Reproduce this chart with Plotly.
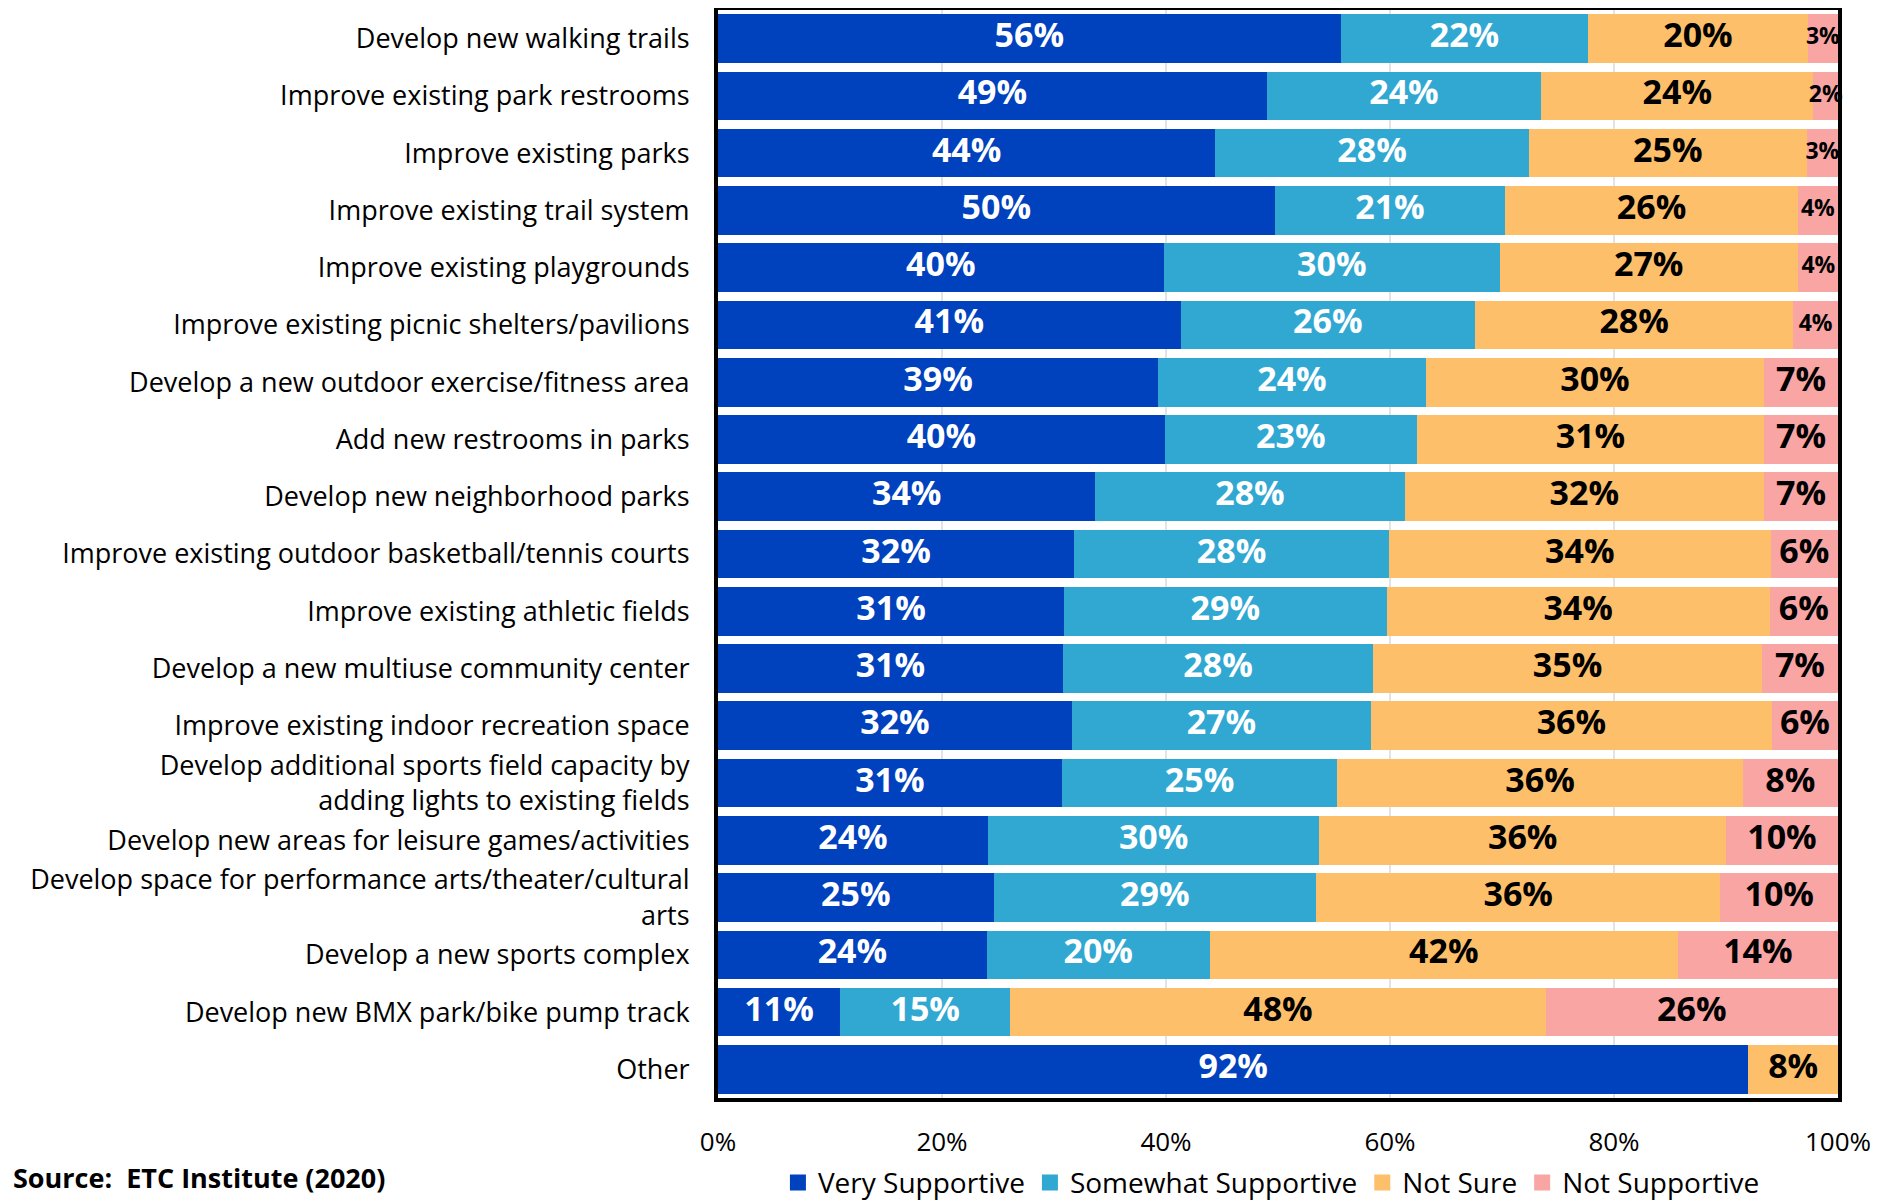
import plotly.graph_objects as go

categories = [
    "Develop new walking trails",
    "Improve existing park restrooms",
    "Improve existing parks",
    "Improve existing trail system",
    "Improve existing playgrounds",
    "Improve existing picnic shelters/pavilions",
    "Develop a new outdoor exercise/fitness area",
    "Add new restrooms in parks",
    "Develop new neighborhood parks",
    "Improve existing outdoor basketball/tennis courts",
    "Improve existing athletic fields",
    "Develop a new multiuse community center",
    "Improve existing indoor recreation space",
    "Develop additional sports field capacity by<br>adding lights to existing fields",
    "Develop new areas for leisure games/activities",
    "Develop space for performance arts/theater/cultural<br>arts",
    "Develop a new sports complex",
    "Develop new BMX park/bike pump track",
    "Other",
]

very_supportive = [55.6, 49.0, 44.4, 49.7, 39.8, 41.3, 39.3, 39.9, 33.7, 31.8, 30.9, 30.8, 31.6, 30.7, 24.1, 24.6, 24.0, 10.9, 92.0]
somewhat_supportive = [22.1, 24.5, 28.0, 20.6, 30.0, 26.3, 23.9, 22.5, 27.6, 28.1, 28.8, 27.7, 26.7, 24.6, 29.6, 28.8, 19.9, 15.2, 0.0]
not_sure = [19.6, 24.3, 24.8, 26.1, 26.6, 28.4, 30.2, 31.0, 32.1, 34.1, 34.2, 34.7, 35.8, 36.2, 36.3, 36.1, 41.8, 47.8, 8.0]
not_supportive = [2.7, 2.2, 2.8, 3.6, 3.7, 4.0, 6.6, 6.6, 6.6, 6.0, 6.1, 6.8, 5.9, 8.5, 10.0, 10.5, 14.3, 26.1, 0.0]

very_labels = ["56%", "49%", "44%", "50%", "40%", "41%", "39%", "40%", "34%", "32%", "31%", "31%", "32%", "31%", "24%", "25%", "24%", "11%", "92%"]
somewhat_labels = ["22%", "24%", "28%", "21%", "30%", "26%", "24%", "23%", "28%", "28%", "29%", "28%", "27%", "25%", "30%", "29%", "20%", "15%", ""]
notsure_labels = ["20%", "24%", "25%", "26%", "27%", "28%", "30%", "31%", "32%", "34%", "34%", "35%", "36%", "36%", "36%", "36%", "42%", "48%", "8%"]
notsupp_labels = ["3%", "2%", "3%", "4%", "4%", "4%", "7%", "7%", "7%", "6%", "6%", "7%", "6%", "8%", "10%", "10%", "14%", "26%", ""]

tick_vals = [0, 20, 40, 60, 80, 100]
tick_text = ["0%", "20%", "40%", "60%", "80%", "100%"]

series = [
    ("Very Supportive", very_supportive, very_labels, "#0041BE", "white"),
    ("Somewhat Supportive", somewhat_supportive, somewhat_labels, "#31A8D2", "white"),
    ("Not Sure", not_sure, notsure_labels, "#FDBF6A", "black"),
    ("Not Supportive", not_supportive, notsupp_labels, "#F9A5A4", "black"),
]

FONT = "Open Sans"

fig = go.Figure()

# stacked bars
for name, vals, labels, color, tcolor in series:
    fig.add_trace(go.Bar(
        name=name,
        y=categories,
        x=vals,
        orientation="h",
        marker=dict(color=color, line=dict(width=0)),
        showlegend=False,
        hoverinfo="skip",
    ))

# data labels centred on each segment
base = [0.0] * len(categories)
for name, vals, labels, color, tcolor in series:
    centers = [b + v / 2 for b, v in zip(base, vals)]
    sizes = [23 if v < 5 else 34 for v in vals]
    fig.add_trace(go.Scatter(
        x=centers,
        y=categories,
        mode="text",
        text=labels,
        textposition="middle center",
        textfont=dict(family=FONT, size=sizes, color=tcolor, weight="bold"),
        showlegend=False,
        hoverinfo="skip",
        cliponaxis=False,
    ))
    base = [b + v for b, v in zip(base, vals)]

# legend entries
for name, vals, labels, color, tcolor in series:
    fig.add_trace(go.Scatter(
        x=[None], y=[None],
        mode="markers",
        name=name,
        marker=dict(symbol="square", size=24, color=color),
        showlegend=True,
    ))

n = len(categories)

fig.update_layout(
    barmode="stack",
    bargap=0.15,
    width=1890,
    height=1193,
    margin=dict(l=710, r=60, t=2, b=103, autoexpand=False),
    paper_bgcolor="white",
    plot_bgcolor="white",
    font=dict(family=FONT, color="black"),
    showlegend=True,
    legend=dict(
        orientation="h",
        x=0.0535, y=-0.078, xanchor="left", yanchor="middle",
        font=dict(family=FONT, size=28, color="black"),
        traceorder="normal",
        itemwidth=30,
        itemclick=False,
        tracegroupgap=0,
    ),
    xaxis=dict(
        range=[0, 100],
        tickvals=tick_vals,
        ticktext=tick_text,
        showgrid=True,
        gridcolor="#E3E3E3",
        gridwidth=1.5,
        zeroline=False,
        showline=True,
        linecolor="black",
        linewidth=4,
        mirror=True,
        ticks="",
        ticklabelstandoff=18,
        tickfont=dict(family=FONT, size=26, color="black"),
        fixedrange=True,
    ),
    yaxis=dict(
        range=[n - 0.5, -0.5],
        autorange=False,
        showgrid=False,
        zeroline=False,
        showline=True,
        linecolor="black",
        linewidth=4,
        mirror=True,
        ticks="",
        ticklabelstandoff=19,
        tickfont=dict(family=FONT, size=27, color="black"),
        fixedrange=True,
    ),
    annotations=[
        dict(
            text="<b>Source:  ETC Institute (2020)</b>",
            xref="paper", yref="paper",
            x=-0.631, y=-0.054,
            xanchor="left", yanchor="top",
            showarrow=False,
            font=dict(family=FONT, size=27, color="black"),
        )
    ],
)

fig.write_html("out.html")
